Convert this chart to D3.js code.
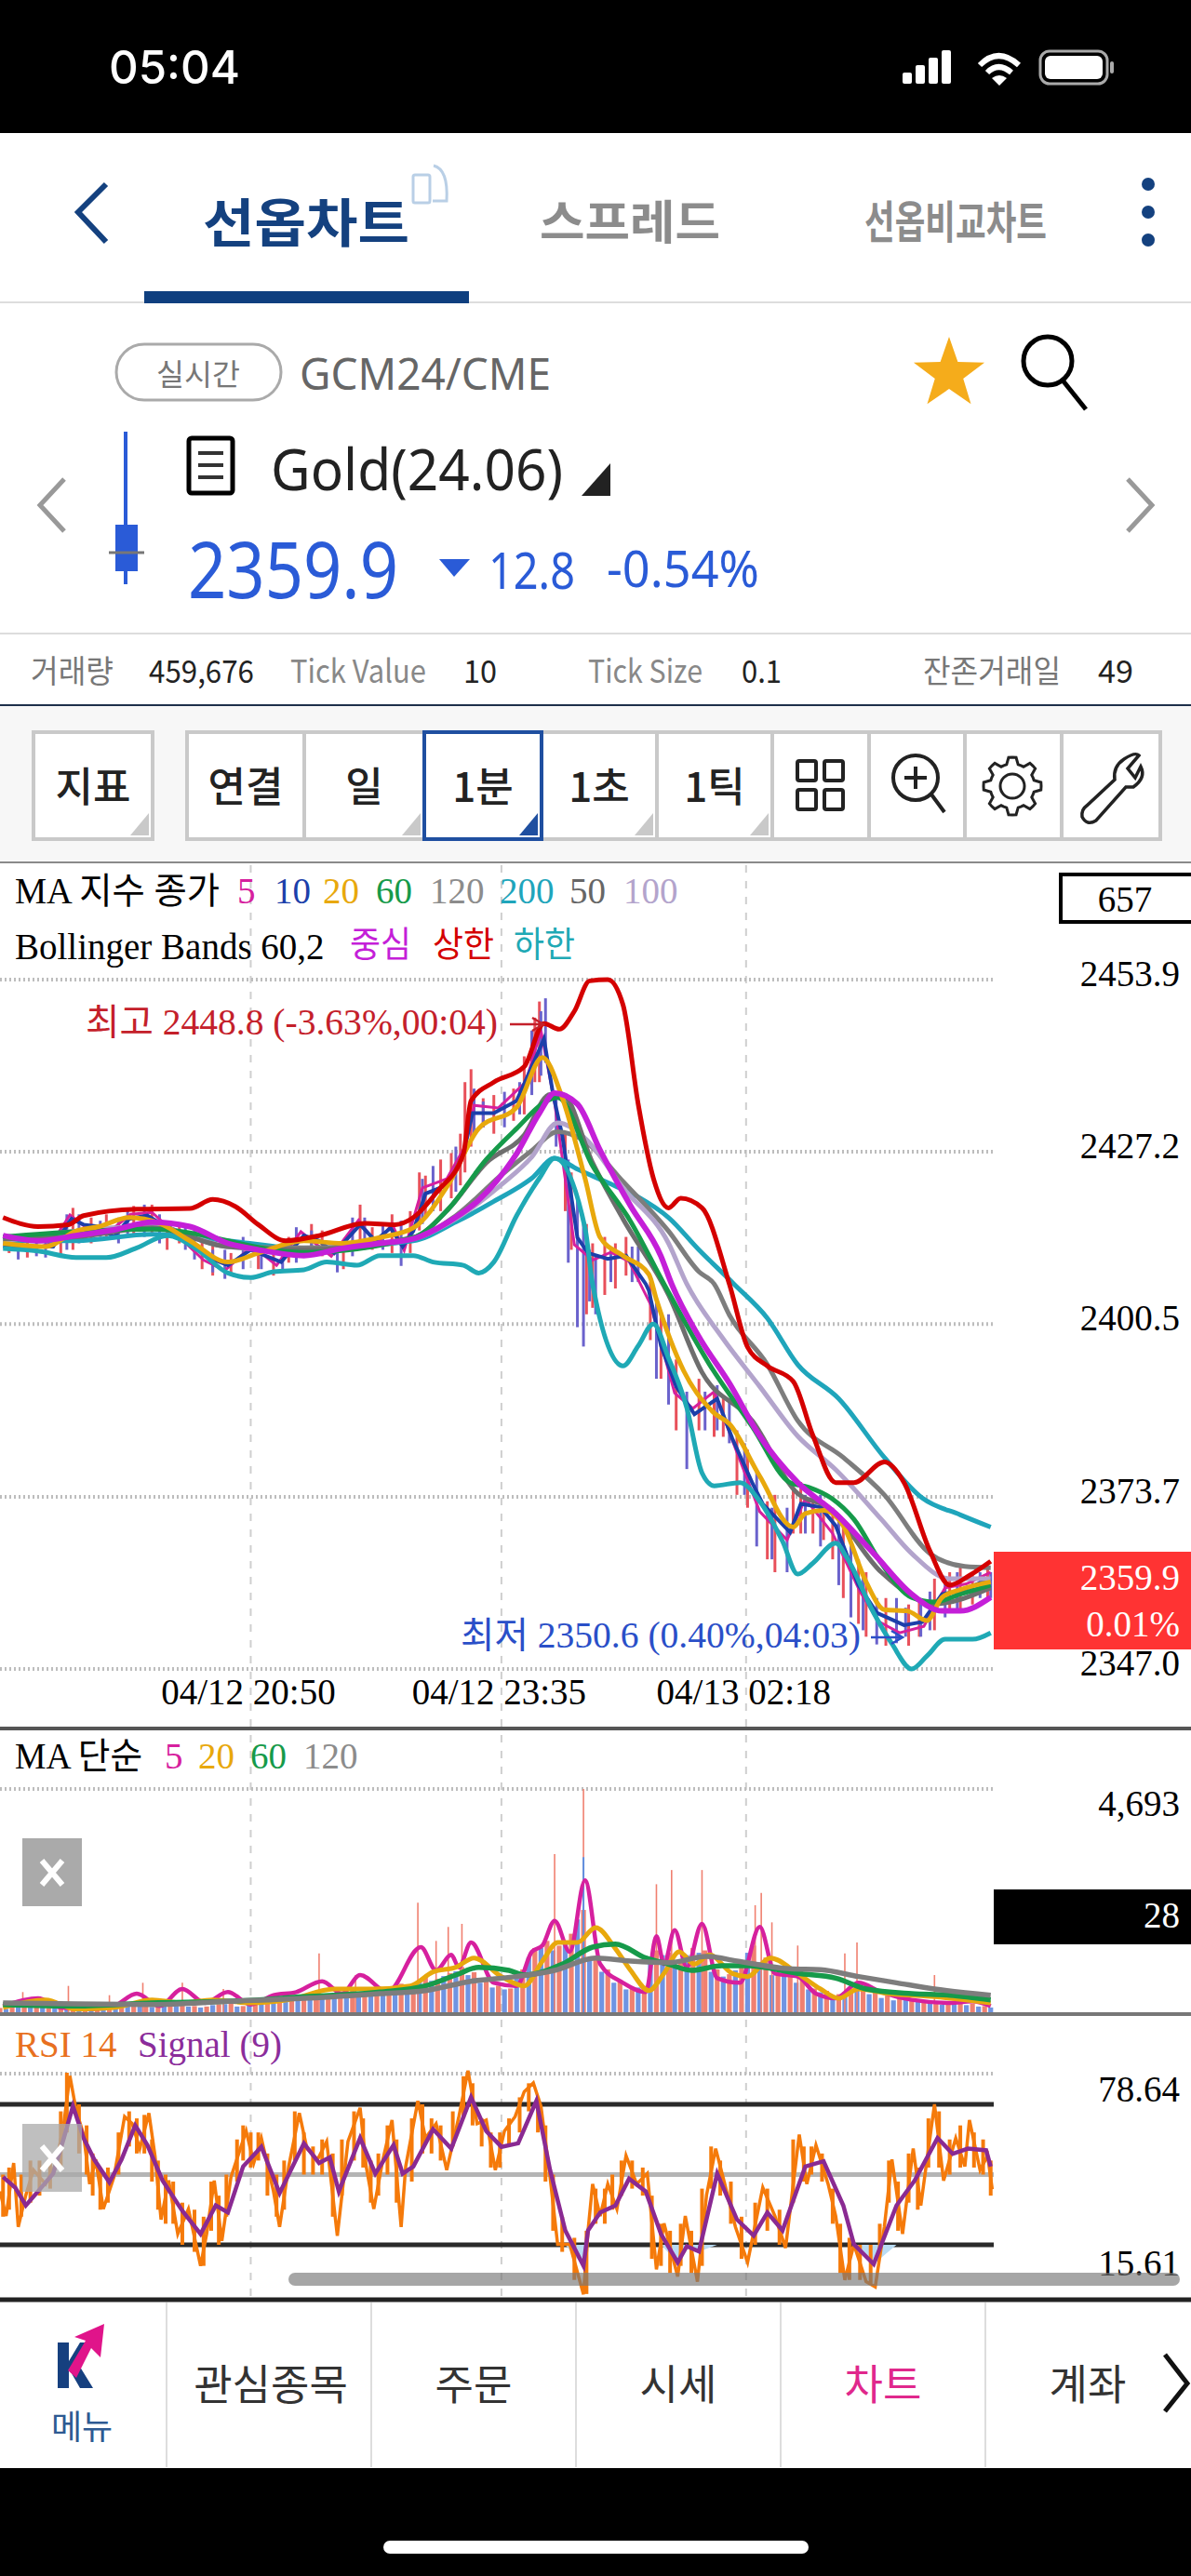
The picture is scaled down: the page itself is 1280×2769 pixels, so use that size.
<!DOCTYPE html>
<html>
<head>
<meta charset="utf-8">
<script src="https://cdn.jsdelivr.net/npm/d3@7"></script>
<style>
  html, body { margin: 0; padding: 0; background: #fff; }
  svg { display: block; }
</style>
</head>
<body>
<div id="chart"></div>
<script>
// [bar index, price]
const bbUpper = [[2,2417],[25,2415.6],[45,2415.9],[55,2417.3],[90,2418.3],[125,2418.4],[140,2419.8],[155,2418.7],[170,2415.9],[188,2413.4],[210,2414.2],[240,2416.1],[260,2415.9],[272,2417],[288,2421.1],[305,2426.9],[310,2435.1],[325,2438],[345,2440.4],[358,2447.1],[368,2446.2],[378,2449],[388,2453.7],[400,2453.9],[410,2450],[420,2434.6],[430,2423.1],[440,2418.5],[448,2420],[462,2418.5],[480,2406.7],[492,2396.9],[505,2394],[522,2391.6],[535,2383.2],[550,2375.9],[562,2375.9],[582,2379.1],[595,2375.9],[612,2365.3],[625,2360],[638,2361.5],[652,2363.7]];
const bbMiddle = [[2,2414.2],[25,2413.4],[50,2414.2],[75,2415.1],[100,2416.3],[125,2415.6],[150,2413],[170,2412],[200,2411.1],[225,2412.2],[250,2413],[272,2413.7],[295,2416.3],[315,2419.7],[340,2426.9],[355,2433.2],[365,2436.3],[380,2434.6],[395,2427.4],[415,2418.8],[435,2411],[442,2406.7],[460,2398.5],[480,2391.3],[500,2383.1],[525,2375.9],[550,2371.1],[575,2364.9],[600,2358.6],[620,2356],[632,2356],[652,2358.1]];
const bbLower = [[2,2412.2],[25,2411.8],[50,2410.8],[70,2410.8],[90,2412.3],[110,2414.2],[130,2412],[150,2408.4],[165,2407.7],[180,2408.6],[200,2408.9],[215,2410.1],[235,2409.6],[250,2411.1],[272,2411.1],[285,2410.1],[305,2409.6],[315,2408.4],[325,2410.1],[340,2417.3],[355,2423.1],[365,2426.2],[385,2415.4],[390,2406.7],[410,2394],[420,2397.1],[430,2400.5],[440,2395.2],[452,2387.5],[462,2377.4],[470,2375.4],[487,2375.9],[500,2373],[515,2366.8],[525,2361.7],[535,2363.4],[550,2366.5],[557,2364.4],[575,2355.7],[587,2350.9],[600,2347],[610,2349],[622,2351.6],[640,2351.6],[652,2352.6]];
const ma200 = [[2,2413.4],[50,2413.4],[100,2414.4],[150,2413.4],[200,2412.2],[272,2413.4],[300,2416.3],[325,2419.5],[350,2423.1],[365,2426.2],[380,2424.5],[400,2422.4],[420,2420.2],[440,2417],[460,2412],[483,2406.7],[505,2401.4],[525,2394.2],[552,2388.9],[582,2379.8],[607,2373.5],[632,2370.9],[652,2369]];
const ma120 = [[2,2413.4],[100,2415.6],[150,2412.5],[200,2412.3],[272,2413.7],[300,2417.3],[330,2423.6],[350,2427.4],[367,2430.3],[385,2428.8],[410,2422.6],[440,2414.9],[460,2408.6],[470,2406.7],[480,2401.9],[505,2394.2],[525,2385.5],[555,2379.8],[582,2374],[612,2364.9],[635,2362.9],[652,2362.7]];
const ma100 = [[2,2413.4],[100,2415.6],[150,2412.5],[200,2411.8],[272,2413.7],[300,2416.8],[330,2422.1],[350,2426.4],[367,2431.7],[385,2429.3],[410,2421.6],[440,2413],[452,2406.7],[475,2398.5],[500,2390.8],[525,2383.1],[550,2377.9],[580,2370.2],[600,2364.9],[625,2361],[652,2361]];
const ma60 = [[2,2414],[100,2415.2],[200,2411.6],[272,2413.9],[295,2418.3],[320,2426],[340,2430.8],[360,2435.1],[367,2435.6],[390,2425],[415,2416.4],[437,2406.7],[467,2394.2],[495,2384.6],[520,2375.9],[532,2375.2],[547,2373.5],[562,2370.2],[580,2363.4],[600,2358.1],[615,2357.4],[632,2358.6],[652,2360]];
const ma50 = [[2,2413.7],[50,2414],[100,2415.4],[150,2412.5],[200,2412],[272,2413.9],[295,2418.3],[320,2425.5],[345,2429.8],[362,2436.1],[370,2436.1],[390,2425.5],[410,2416.8],[440,2405],[462,2393],[495,2385.5],[525,2374.2],[545,2372.1],[580,2362],[615,2357.1],[652,2359.6]];
const ma20 = [[2,2413],[30,2412.5],[50,2414.9],[65,2415.6],[85,2417],[105,2416.1],[125,2413.4],[150,2410.1],[170,2411.5],[200,2413.4],[225,2413],[250,2413.9],[272,2415.4],[295,2422.1],[315,2430.8],[340,2434.1],[357,2441.8],[370,2435.6],[385,2423.1],[395,2413.9],[410,2411.1],[427,2408.2],[432,2404.3],[450,2393.2],[470,2386.7],[480,2385],[500,2376.9],[522,2369],[530,2371.1],[542,2371.6],[555,2369.2],[570,2360.5],[582,2356.2],[597,2356],[610,2354.5],[620,2358.1],[632,2359.3],[652,2360.5]];
const ma10 = [[2,2412.5],[20,2412.5],[35,2412.5],[47,2416.8],[55,2415.9],[65,2415.6],[75,2414],[85,2416.8],[97,2417.3],[107,2415.9],[122,2414.4],[135,2411],[150,2409.6],[165,2412],[185,2410.1],[200,2414.2],[210,2413.4],[220,2411.5],[237,2415.9],[247,2413.4],[257,2415.4],[265,2412.5],[272,2414.9],[280,2420.7],[295,2422.1],[305,2426.9],[311,2433.2],[325,2433.2],[340,2435.1],[350,2440.4],[358,2444.7],[364,2436.1],[370,2429.8],[380,2413.9],[387,2411.5],[400,2410.6],[412,2411.1],[425,2406.7],[427,2405.7],[435,2397.1],[445,2390.8],[457,2386.5],[472,2388.9],[482,2382.7],[495,2375.9],[502,2372.6],[520,2368.2],[527,2372.6],[540,2372.1],[550,2369.2],[565,2360],[577,2355.7],[595,2353.8],[607,2354.3],[620,2358.6],[632,2359.1],[652,2361]];
const ma5 = [[2,2412.9],[18,2411.9],[34,2413],[46,2417.4],[58,2415.2],[72,2414.8],[86,2417.5],[100,2417.8],[118,2414],[134,2410.4],[148,2408.8],[166,2412.6],[182,2409.6],[198,2414.8],[218,2411],[236,2416.6],[248,2412.8],[258,2416],[266,2411.9],[278,2421.6],[294,2423],[306,2428],[312,2434.4],[328,2434],[346,2438],[356,2446],[365,2434.8],[378,2412.8],[390,2410.4],[402,2411.6],[414,2410.2],[428,2403.6],[444,2389.8],[456,2387.4],[470,2390],[484,2381.2],[500,2371.4],[518,2367],[530,2373.4],[548,2368],[566,2359],[578,2354.4],[592,2352.6],[608,2353.6],[622,2359.6],[636,2360.2],[652,2362]];
// [bar index, low, high]
const upSticks = [[6,2411.5,2413.5],[18,2410.8,2413.5],[40,2411,2416],[48,2412,2418.5],[60,2413,2417],[70,2414,2417.5],[88,2414,2418.8],[100,2414.5,2419],[110,2412,2416.5],[118,2413,2416],[133,2409,2413.5],[140,2408,2413],[152,2408,2411.5],[170,2409,2413],[180,2408,2412.5],[190,2410,2414],[205,2412,2416],[212,2411,2415],[226,2409,2413],[237,2412,2419],[245,2412,2415.5],[258,2411.5,2417.5],[270,2411.5,2418],[276,2415,2424],[280,2417,2423.5],[290,2418,2426],[297,2420,2427],[303,2422,2430],[306,2424,2438],[310,2428,2440],[318,2431,2435.5],[325,2430,2436],[338,2432,2437],[345,2433,2442],[352,2438,2448],[355,2438,2450.5],[372,2418,2430],[376,2412,2424],[386,2402,2416],[390,2403,2413],[398,2405,2414],[405,2406,2413],[412,2408,2414],[428,2398,2407],[435,2392,2402],[445,2384,2395],[460,2384,2392],[470,2383,2390],[476,2383,2389],[485,2374,2384],[492,2372,2381],[505,2364,2373],[510,2362,2374],[522,2368,2375],[527,2368,2376],[535,2368,2374],[542,2367,2373],[548,2364,2372],[555,2358,2369],[565,2354,2364],[570,2352,2362],[583,2350.6,2358],[590,2352,2357],[598,2350.6,2357],[605,2352,2358],[615,2353,2361],[625,2356,2362],[632,2356,2363],[640,2357,2362],[650,2358,2363]];
const downSticks = [[12,2410.5,2413.5],[24,2411,2413.5],[30,2410.8,2414],[44,2412,2417.5],[52,2413,2417.5],[66,2414,2416.5],[78,2413,2417],[84,2414.5,2418.5],[95,2414,2419],[105,2413,2417.5],[122,2412,2416],[128,2410.5,2415],[140,2408.5,2412],[148,2407.5,2412],[160,2409,2414],[172,2409,2412.5],[186,2409,2413],[195,2410,2415.5],[205,2411,2415],[222,2408.5,2413],[232,2411,2417],[240,2412,2417],[252,2412,2416],[264,2409.5,2416.5],[278,2416,2423],[285,2418,2425],[300,2421,2428],[312,2430,2437],[318,2431,2435],[332,2431,2436.5],[342,2433,2438],[350,2436,2446],[356,2439,2449],[359,2441,2451],[366,2428,2436],[374,2410,2426],[380,2400,2420],[384,2397,2416],[388,2404,2412],[392,2402,2411],[402,2407,2412],[416,2407,2412.5],[420,2407,2412.5],[432,2392,2404],[440,2388,2402],[452,2378,2390],[464,2384,2390],[472,2384,2391],[480,2382,2389],[490,2374,2382],[498,2366,2378],[508,2364,2372],[518,2362,2372],[530,2368,2374],[540,2366,2374],[552,2360,2370],[560,2355,2368],[568,2353,2362],[577,2350.8,2358],[590,2351,2358],[596,2352,2356.5],[606,2352,2357],[612,2353,2359],[622,2355,2361],[630,2356,2362],[645,2358,2362],[652,2358,2362]];

// volume, one value every 8 bars (up from bar 0, down from bar 4)
const volUp = [90,140,180,120,90,70,110,90,130,110,160,130,180,120,210,150,130,120,170,230,130,200,310,280,360,300,420,350,380,500,420,480,520,600,530,760,700,820,950,840,700,560,500,900,1350,1500,1400,1650,2150,1150,900,650,500,550,1300,1250,1050,1350,1300,900,800,950,1400,1150,800,800,700,500,450,380,480,520,420,350,280,290,250,230,180,210,180,130];
const volDown = [70,110,150,100,80,100,80,110,90,140,120,150,110,160,130,120,100,150,170,120,160,260,240,310,280,360,320,350,430,400,450,490,540,560,680,660,760,860,780,620,520,480,800,1150,1350,1300,1500,1950,1100,850,620,480,520,1100,1200,980,1200,1250,850,750,880,1250,1050,780,760,620,480,420,350,430,450,380,300,250,260,220,210,160,190,150,120,100];
const volSpikes = [[15,424],[45,554],[72,359],[94,619],[120,619],[147,489],[210,1239],[234,782],[275,2304],[287,1499],[295,1793],[304,1858],[365,3326],[384,4693],[432,2691],[442,2989],[462,2989],[497,2250],[501,2510],[508,1890],[525,1402],[556,1239],[564,1467],[615,782]];
const volDownSpikes = [[384,3260]];
const volMa5 = [[2,130],[25,293],[40,98],[60,65],[75,130],[90,391],[105,130],[120,489],[135,196],[150,424],[165,163],[180,359],[195,424],[212,652],[225,391],[237,782],[255,424],[277,1369],[287,880],[297,1206],[302,945],[310,1467],[325,619],[340,554],[350,1271],[357,1402],[365,1923],[375,1271],[385,2771],[395,1011],[410,619],[425,424],[432,1597],[437,1011],[444,1728],[452,945],[462,1858],[472,717],[487,619],[500,1793],[510,815],[525,750],[537,391],[550,293],[565,619],[580,424],[600,261],[625,196],[640,228],[652,130]];
const volMa20 = [[2,98],[30,261],[50,65],[75,98],[100,261],[120,196],[140,261],[165,196],[190,261],[220,489],[245,489],[270,554],[285,848],[300,945],[312,1141],[330,750],[345,554],[357,1076],[367,1467],[380,1467],[392,1780],[405,1337],[415,880],[427,456],[437,815],[447,1271],[457,1011],[467,1206],[482,815],[492,750],[507,1141],[525,815],[540,489],[552,293],[565,489],[585,391],[615,326],[652,196]];
const volMa60 = [[2,163],[50,130],[100,196],[150,228],[200,326],[250,424],[280,554],[300,782],[315,945],[335,880],[345,782],[370,1011],[390,1369],[405,1434],[425,1141],[440,1011],[455,880],[475,978],[492,978],[525,815],[550,717],[570,489],[600,391],[625,359],[652,261]];
const volMa120 = [[2,196],[50,176],[100,163],[150,228],[200,293],[250,391],[280,456],[310,652],[340,750],[365,880],[392,1141],[415,1076],[440,1043],[465,1174],[485,1076],[520,913],[540,893],[565,750],[590,619],[615,489],[652,359]];

const rsiValues = [[0,45.2],[4,38.2],[9,53.3],[12,35.1],[17,44.2],[22,51.3],[30,47.3],[37,53.3],[42,64.5],[46,78.1],[50,68.5],[55,61.4],[59,47.3],[63,54.3],[68,40.2],[75,49.3],[82,66.5],[87,64.5],[92,57.4],[98,67.5],[102,55.4],[106,37.2],[111,48.3],[117,33.1],[124,40.2],[132,24],[136,33.1],[141,48.3],[146,31.1],[152,49.3],[162,62.4],[167,53.3],[172,60.4],[180,45.2],[184,35.1],[190,52.3],[197,67.5],[202,57.4],[209,54.3],[215,59.4],[222,32.6],[229,59.4],[237,69],[241,52.3],[246,40.2],[252,54.3],[258,65.5],[264,35.1],[267,52.3],[275,71],[280,60.4],[287,64.5],[294,51.3],[302,66.5],[308,79.6],[314,64.5],[320,65.5],[326,51.3],[332,62.4],[339,66.5],[345,73.6],[351,76.1],[356,69.5],[362,49.3],[367,30.1],[375,30.1],[384,15.9],[387,34.1],[390,47.3],[395,38.2],[400,47.3],[406,40.2],[412,55.4],[419,47.3],[426,50.3],[432,23],[437,36.1],[446,21],[451,38.2],[459,19.5],[465,44.2],[471,57.4],[477,47.3],[484,35.1],[492,25],[502,46.3],[510,38.2],[517,29.1],[526,61.4],[531,47.3],[537,58.4],[545,47.3],[550,38.2],[556,20],[562,30.1],[570,19.5],[576,18],[582,35.1],[587,54.3],[594,33.1],[601,57.4],[606,41.2],[615,70],[621,48.3],[629,60.4],[635,52.3],[638,65.5],[645,51.3],[650,55.4],[653,45.8]];
// [bar index, low, high]
const rsiRanges = [[2,38,50],[6,40,52],[14,38,50],[20,42,54],[26,44,54],[33,46,56],[40,52,68],[44,62,79],[52,56,70],[57,50,64],[61,44,56],[66,40,52],[71,42,52],[78,50,62],[85,58,68],[90,56,66],[95,56,67],[100,48,60],[104,40,54],[109,36,50],[114,36,48],[120,30,42],[128,28,40],[134,24,38],[139,34,48],[144,30,44],[149,38,50],[156,48,60],[160,54,64],[165,52,62],[170,54,62],[176,44,56],[182,38,50],[187,40,54],[194,54,68],[200,50,62],[206,50,58],[212,50,60],[219,38,56],[225,44,60],[233,54,68],[239,52,66],[244,42,54],[249,44,56],[255,50,64],[261,42,60],[271,48,66],[278,56,70],[284,56,66],[290,54,64],[298,58,68],[305,66,78],[311,64,76],[317,58,66],[323,52,62],[329,52,62],[335,58,66],[342,62,72],[348,68,76],[354,62,72],[359,48,64],[364,34,50],[370,28,38],[378,20,32],[386,16,34],[392,36,46],[398,36,46],[403,40,50],[409,44,54],[416,46,54],[423,44,52],[429,26,44],[435,24,36],[441,22,34],[448,24,36],[455,22,34],[462,24,46],[468,46,58],[474,44,54],[481,36,48],[488,26,38],[497,30,42],[505,34,46],[513,30,40],[522,42,60],[529,48,58],[534,50,58],[541,48,56],[548,36,46],[553,22,36],[559,20,32],[566,20,30],[573,19,30],[579,28,36],[585,42,54],[591,34,48],[598,42,56],[604,40,52],[611,52,66],[618,52,68],[625,50,60],[632,52,64],[641,52,62],[647,50,60],[652,44,54]];
const rsiSignal = [[2,49.3],[10,46.3],[17,41.2],[25,45.2],[35,50.3],[42,60.4],[48,69.5],[55,60.4],[62,54.3],[72,47.8],[80,54.3],[89,64],[97,58.4],[107,48.3],[120,39.7],[132,33.1],[142,41.2],[150,39.2],[160,52.3],[172,57.9],[184,44.7],[200,58.9],[210,53.3],[217,54.9],[223,45.2],[237,60.4],[247,50.3],[259,58.4],[265,50.3],[272,52.3],[285,62.9],[297,57.4],[310,72],[320,62.4],[330,57.9],[341,58.9],[353,71],[362,51.3],[372,34.1],[384,24],[387,34.1],[395,39.2],[405,41.2],[414,48.8],[425,45.2],[435,33.1],[446,25],[452,29.6],[460,28.1],[472,50.3],[485,37.2],[496,32.6],[505,39.2],[515,34.1],[530,52.3],[542,53.8],[555,41.2],[562,30.1],[575,24.5],[590,41.2],[602,48.3],[617,60.4],[627,55.9],[637,57.4],[649,56.9],[652,52.3]];

const priceTicks = [2453.9, 2427.2, 2400.5, 2373.7, 2347.0];
const timeTickBars = [165, 330, 491];
const timeTickLabels = ["04/12 20:50", "04/12 23:35", "04/13 02:18"];
const rsiLevels = [70, 50, 30];

const infoRow = [["거래량",33,89,"#777"],["459,676",160,113,"#222"],["Tick Value",312,146,"#888"],["10",498,36,"#222"],["Tick Size",632,123,"#888"],["0.1",797,43,"#222"],["잔존거래일",992,148,"#777"],["49",1180,38,"#222"]];
const toolButtons = [["지표",36,128],["연결",201,126],["일",327,129],["1분",456,126],["1초",582,124],["1틱",706,124]];
const navItems = [["관심종목",291,"#333"],["주문",509,"#333"],["시세",729,"#333"],["차트",949,"#e0288c"],["계좌",1169,"#333"]];

const serif = "'Liberation Serif','Noto Sans CJK KR',serif";
const sans = "'Noto Sans CJK KR','Noto Sans',sans-serif";

const svg = d3.select("#chart").append("svg").attr("width", 1280).attr("height", 2769);
svg.append("rect").attr("width", 1280).attr("height", 2769).attr("fill", "#fff");

const x = d3.scaleLinear().domain([0, 654]).range([0, 1068]);
const yPrice = d3.scaleLinear().domain([2347.0, 2453.9]).range([1794, 1053]);
const yVol = d3.scaleLinear().domain([0, 4693]).range([2163, 1923]);
const yRsi = d3.scaleLinear().domain([30, 70]).range([2413, 2262]);

function label(g, px, py, s, o = {}) {
  const t = g.append("text")
    .attr("x", px).attr("y", py)
    .attr("dominant-baseline", "central")
    .attr("text-anchor", o.anchor || "start")
    .attr("font-family", o.font || serif)
    .attr("font-size", o.size || 39)
    .attr("font-weight", o.weight || 400)
    .attr("fill", o.fill || "#000")
    .text(s);
  if (o.len) t.attr("textLength", o.len).attr("lengthAdjust", "spacingAndGlyphs");
  return t;
}

// ---- status bar and header
const head = svg.append("g");
head.append("rect").attr("width", 1280).attr("height", 143).attr("fill", "#000");
label(head, 117, 72, "05:04", { font: "Inter,Roboto,sans-serif", size: 50, weight: 500, fill: "#fff", len: 141 });
[[970,78,12],[984,70,20],[998,62,28],[1012,54,36]].forEach(b => head.append("rect").attr("x", b[0]).attr("y", b[1]).attr("width", 10).attr("height", b[2]).attr("rx", 2).attr("fill", "#fff"));
head.append("path").attr("d", "M1053 70 Q1073 50 1095 70").attr("fill", "none").attr("stroke", "#fff").attr("stroke-width", 6);
head.append("path").attr("d", "M1061 78 Q1073 66 1087 78").attr("fill", "none").attr("stroke", "#fff").attr("stroke-width", 6);
head.append("path").attr("d", "M1066 84 L1074 92 L1082 84 Q1074 78 1066 84Z").attr("fill", "#fff");
head.append("rect").attr("x", 1118).attr("y", 55).attr("width", 72).attr("height", 35).attr("rx", 10).attr("fill", "none").attr("stroke", "#aaa").attr("stroke-width", 3);
head.append("rect").attr("x", 1123).attr("y", 60).attr("width", 62).attr("height", 25).attr("rx", 6).attr("fill", "#fff");
head.append("rect").attr("x", 1193).attr("y", 66).attr("width", 4).attr("height", 13).attr("rx", 2).attr("fill", "#aaa");

const navy = "#14417f", blue = "#2a5bd7";
head.append("path").attr("d", "M114 198 L84 228 L114 260").attr("fill", "none").attr("stroke", navy).attr("stroke-width", 6);
label(head, 218, 235, "선옵차트", { font: sans, size: 56, weight: 700, fill: navy, len: 222 });
head.append("rect").attr("x", 444).attr("y", 188).attr("width", 18).attr("height", 30).attr("rx", 2).attr("fill", "none").attr("stroke", "#b9cfe6").attr("stroke-width", 3);
head.append("path").attr("d", "M466 178 Q482 182 480 216 L465 216").attr("fill", "none").attr("stroke", "#b9cfe6").attr("stroke-width", 3);
label(head, 580, 235, "스프레드", { font: sans, size: 50, weight: 700, fill: "#8c8c8c", len: 194 });
label(head, 929, 235, "선옵비교차트", { font: sans, size: 48, weight: 700, fill: "#8c8c8c", len: 196 });
[198, 228, 258].forEach(cy => head.append("circle").attr("cx", 1234).attr("cy", cy).attr("r", 7).attr("fill", navy));
head.append("rect").attr("x", 0).attr("y", 324).attr("width", 1280).attr("height", 2).attr("fill", "#ddd");
head.append("rect").attr("x", 155).attr("y", 313).attr("width", 349).attr("height", 13).attr("fill", "#0f3f7f");

head.append("rect").attr("x", 125).attr("y", 370).attr("width", 177).attr("height", 60).attr("rx", 30).attr("fill", "#fff").attr("stroke", "#aaa").attr("stroke-width", 3);
label(head, 213, 400, "실시간", { font: sans, size: 32, fill: "#777", anchor: "middle", len: 90 });
label(head, 322, 400, "GCM24/CME", { font: "'Noto Sans',sans-serif", size: 48, fill: "#666", len: 270 });
const starPts = d3.range(10).map(i => {
  const r = i % 2 ? 16 : 40, a = i * Math.PI / 5 - Math.PI / 2;
  return [1020 + r * Math.cos(a), 402 + r * Math.sin(a)];
});
head.append("path").attr("d", d3.line()(starPts) + "Z").attr("fill", "#f5ac1b");
head.append("circle").attr("cx", 1126).attr("cy", 388).attr("r", 26).attr("fill", "none").attr("stroke", "#000").attr("stroke-width", 5);
head.append("line").attr("x1", 1143).attr("y1", 410).attr("x2", 1167).attr("y2", 440).attr("stroke", "#000").attr("stroke-width", 5);

head.append("line").attr("x1", 135).attr("y1", 464).attr("x2", 135).attr("y2", 628).attr("stroke", blue).attr("stroke-width", 4);
head.append("rect").attr("x", 124).attr("y", 564).attr("width", 24).attr("height", 50).attr("fill", blue);
head.append("line").attr("x1", 117).attr("y1", 594).attr("x2", 155).attr("y2", 594).attr("stroke", "#777").attr("stroke-width", 3);
head.append("rect").attr("x", 203).attr("y", 471).attr("width", 47).attr("height", 59).attr("rx", 3).attr("fill", "none").attr("stroke", "#000").attr("stroke-width", 5);
[487, 500, 513].forEach(ly => head.append("line").attr("x1", 213).attr("y1", ly).attr("x2", 240).attr("y2", ly).attr("stroke", "#333").attr("stroke-width", 4));
label(head, 291, 503, "Gold(24.06)", { font: "'Noto Sans',sans-serif", size: 62, fill: "#222", len: 314 });
head.append("path").attr("d", "M625 533 L656 533 L656 498Z").attr("fill", "#222");
head.append("path").attr("d", "M69 515 L43 543 L69 571").attr("fill", "none").attr("stroke", "#999").attr("stroke-width", 5);
head.append("path").attr("d", "M1212 515 L1238 543 L1212 571").attr("fill", "none").attr("stroke", "#999").attr("stroke-width", 5);
label(head, 202, 610, "2359.9", { font: "'Noto Sans',sans-serif", size: 84, fill: blue, len: 226 });
head.append("path").attr("d", "M472 601 L505 601 L488 620Z").attr("fill", blue);
label(head, 525, 612, "12.8", { font: "'Noto Sans',sans-serif", size: 54, fill: blue, len: 93 });
label(head, 652, 610, "-0.54%", { font: "'Noto Sans',sans-serif", size: 54, fill: blue, len: 164 });

head.append("rect").attr("y", 680).attr("width", 1280).attr("height", 2).attr("fill", "#ddd");
infoRow.forEach(d => label(head, d[1], 719, d[0], { font: sans, size: 34, fill: d[3], len: d[2] }));
head.append("rect").attr("y", 757).attr("width", 1280).attr("height", 2).attr("fill", "#1d2f4a");
head.append("rect").attr("y", 759).attr("width", 1280).attr("height", 168).attr("fill", "#f7f7f7");

// ---- toolbar
const tools = svg.append("g");
function toolBox(bx, w, stroke) {
  tools.append("rect").attr("x", bx).attr("y", 787).attr("width", w).attr("height", 115)
    .attr("fill", "#fff").attr("stroke", stroke || "#c9c9c9").attr("stroke-width", 4);
}
[[830,104],[934,103],[1037,104],[1141,106]].forEach(b => toolBox(b[0], b[1]));
toolButtons.filter(d => d[0] !== "1분").forEach(d => toolBox(d[1], d[2]));
toolBox(456, 126, "#1f4fa0");
toolButtons.forEach(d => {
  label(tools, d[1] + d[2] / 2, 843, d[0], { font: sans, size: 44, weight: 500, fill: "#222", anchor: "middle" });
  if (d[0] !== "연결") {
    const c = d[0] === "1분" ? "#1f4fa0" : "#c9c9c9", rx = d[1] + d[2] - 4, by = 898;
    tools.append("path").attr("d", `M${rx} ${by} L${rx - 20} ${by} L${rx} ${by - 24}Z`).attr("fill", c);
  }
});
[[857,818],[886,818],[857,849],[886,849]].forEach(r => tools.append("rect").attr("x", r[0]).attr("y", r[1]).attr("width", 20).attr("height", 21).attr("rx", 2).attr("fill", "none").attr("stroke", "#222").attr("stroke-width", 4));
tools.append("circle").attr("cx", 984).attr("cy", 836).attr("r", 24).attr("fill", "none").attr("stroke", "#222").attr("stroke-width", 4);
tools.append("path").attr("d", "M972 836 H996 M984 824 V848 M1001 854 L1015 873").attr("stroke", "#222").attr("stroke-width", 4);
tools.append("circle").attr("cx", 1088).attr("cy", 845).attr("r", 13).attr("fill", "none").attr("stroke", "#222").attr("stroke-width", 3);
const gearPts = d3.range(48).map(i => {
  const k = i % 6, r = k < 3 ? 31 : 24, a = (i - 1) * Math.PI / 24;
  return [1088 + r * Math.cos(a), 845 + r * Math.sin(a)];
});
tools.append("path").attr("d", d3.line()(gearPts) + "Z").attr("fill", "none").attr("stroke", "#222").attr("stroke-width", 3);
tools.append("path").attr("d", "M1208 816 Q1220 808 1224 812 L1212 826 L1220 836 L1226 824 Q1232 836 1218 846 L1210 846 L1178 882 Q1168 888 1163 878 Q1162 870 1168 866 L1198 838 Q1196 824 1208 816Z").attr("fill", "none").attr("stroke", "#222").attr("stroke-width", 3.5);

// ---- grid
const grid = svg.append("g");
const hDots = (v, scale) => grid.append("line").attr("x1", 0).attr("x2", 1068).attr("y1", scale(v)).attr("y2", scale(v))
  .attr("stroke", "#bdbdbd").attr("stroke-width", 4).attr("stroke-dasharray", "2,3");
grid.selectAll(".vgrid").data(timeTickBars).join("line").attr("class", "vgrid")
  .attr("x1", d => x(d)).attr("x2", d => x(d)).attr("y1", 930).attr("y2", 2470)
  .attr("stroke", "#cfcfcf").attr("stroke-width", 2).attr("stroke-dasharray", "8,9");
priceTicks.forEach(t => hDots(t, yPrice));
hDots(4693, yVol);
grid.append("line").attr("x1", 0).attr("x2", 1068).attr("y1", 2229).attr("y2", 2229).attr("stroke", "#bdbdbd").attr("stroke-width", 4).attr("stroke-dasharray", "2,3");

// ---- price pane
const lineGen = (xs, ys) => d3.line().x(d => xs(d[0])).y(d => ys(d[1])).curve(d3.curveMonotoneX);
const priceLine = lineGen(x, yPrice);
const pane = svg.append("g");
const sticks = (data, color) => pane.append("g").selectAll("line").data(data).join("line")
  .attr("x1", d => x(d[0])).attr("x2", d => x(d[0])).attr("y1", d => yPrice(d[1])).attr("y2", d => yPrice(d[2]))
  .attr("stroke", color).attr("stroke-width", 3);
sticks(upSticks, "#e8505a");
sticks(downSticks, "#6a62cc");
const sharp = d3.line().x(d => x(d[0])).y(d => yPrice(d[1]));
pane.append("path").attr("d", sharp(ma5)).attr("fill", "none").attr("stroke", "#d6209e").attr("stroke-width", 3);
pane.append("path").attr("d", sharp(ma10)).attr("fill", "none").attr("stroke", "#1c3faa").attr("stroke-width", 4);
[[ma200,"#1fa5bb",5],[bbLower,"#1fa9b5",5],[ma120,"#7d7d7d",5],[ma100,"#b3a4cc",5],[ma50,"#6e6e6e",5],[ma60,"#169a4a",5],[ma20,"#e8a80c",5],[bbMiddle,"#c41fd8",6],[bbUpper,"#d40000",5]]
  .forEach(s => pane.append("path").attr("d", priceLine(s[0])).attr("fill", "none").attr("stroke", s[1]).attr("stroke-width", s[2]));

// ---- volume pane
const vol = svg.append("g");
const volBars = (data, offset, color) => vol.append("g").selectAll("rect").data(data).join("rect")
  .attr("x", (d, i) => x(i * 8 + offset) - 2.6).attr("width", 5.2)
  .attr("y", d => yVol(d)).attr("height", d => yVol(0) - yVol(d)).attr("fill", color);
volBars(volUp, 0, "#f08070");
volBars(volDown, 4, "#6f94e2");
vol.append("g").selectAll("line").data(volSpikes).join("line")
  .attr("x1", d => x(d[0])).attr("x2", d => x(d[0])).attr("y1", d => yVol(d[1])).attr("y2", yVol(0))
  .attr("stroke", "#f08070").attr("stroke-width", 1.6);
vol.append("g").selectAll("line").data(volDownSpikes).join("line")
  .attr("x1", d => x(d[0])).attr("x2", d => x(d[0])).attr("y1", d => yVol(d[1])).attr("y2", yVol(0))
  .attr("stroke", "#5f8fe0").attr("stroke-width", 2);
const volLine = lineGen(x, yVol);
[[volMa5,"#d6209e",4.5],[volMa20,"#e8a80c",5],[volMa60,"#169a4a",5.5],[volMa120,"#7d7d7d",5.5]]
  .forEach(s => vol.append("path").attr("d", volLine(s[0])).attr("fill", "none").attr("stroke", s[1]).attr("stroke-width", s[2]));

// ---- rsi pane
const rsi = svg.append("g");
rsiLevels.forEach(v => rsi.append("line").attr("x1", 0).attr("x2", 1068).attr("y1", yRsi(v)).attr("y2", yRsi(v))
  .attr("stroke", v === 50 ? "#b5b5b5" : "#2a2a2a").attr("stroke-width", 5));
rsi.append("path").datum(rsiSignal)
  .attr("d", d3.area().x(d => x(d[0])).y0(yRsi(30)).y1(d => yRsi(Math.min(d[1], 30))))
  .attr("fill", "#b9dcf4");
rsi.append("g").selectAll("line").data(rsiRanges).join("line")
  .attr("x1", d => x(d[0])).attr("x2", d => x(d[0])).attr("y1", d => yRsi(d[1])).attr("y2", d => yRsi(d[2]))
  .attr("stroke", "#f57a0a").attr("stroke-width", 4);
rsi.append("path").attr("d", d3.line().x(d => x(d[0])).y(d => yRsi(d[1]))(rsiValues)).attr("fill", "none").attr("stroke", "#f57a0a").attr("stroke-width", 3.5);
rsi.append("path").attr("d", d3.line().x(d => x(d[0])).y(d => yRsi(d[1]))(rsiSignal)).attr("fill", "none").attr("stroke", "#8a2a92").attr("stroke-width", 4.5);

// ---- axes
function rightAxis(scale, ticks, fmt, dy) {
  const g = svg.append("g").attr("transform", "translate(1268,0)")
    .call(d3.axisRight(scale).tickValues(ticks).tickFormat(fmt).tickSize(0));
  g.select(".domain").remove();
  g.selectAll("text").attr("x", 0).attr("dy", 0).attr("y", dy)
    .attr("text-anchor", "end").attr("dominant-baseline", "central")
    .attr("font-family", serif).attr("font-size", 39).attr("fill", "#000");
  return g;
}
rightAxis(yPrice, priceTicks, d3.format(".1f"), -7);
rightAxis(yVol, [4693], d3.format(","), 15);
label(svg, 1268, 2245, "78.64", { anchor: "end" });
label(svg, 1268, 2432, "15.61", { anchor: "end" });

const xAxis = svg.append("g").attr("transform", "translate(-3,1818)")
  .call(d3.axisBottom(x).tickValues(timeTickBars).tickFormat((d, i) => timeTickLabels[i]).tickSize(0));
xAxis.select(".domain").remove();
xAxis.selectAll("text").attr("y", 0).attr("dy", 0).attr("dominant-baseline", "central")
  .attr("font-family", serif).attr("font-size", 39).attr("fill", "#000");

// ---- separators and boxes
const sep = (sy, c, w) => svg.append("rect").attr("y", sy - w / 2).attr("width", 1280).attr("height", w).attr("fill", c);
sep(927, "#8a8a8a", 2);
sep(1858, "#555", 4);
sep(2165, "#777", 4);
sep(2472, "#222", 5);
svg.append("rect").attr("x", 1140).attr("y", 940).attr("width", 145).attr("height", 51).attr("fill", "#fff").attr("stroke", "#000").attr("stroke-width", 4);
label(svg, 1209, 966, "657", { anchor: "middle" });
svg.append("rect").attr("x", 1068).attr("y", 1668).attr("width", 212).attr("height", 105).attr("fill", "#ff3333");
label(svg, 1268, 1695, "2359.9", { anchor: "end", fill: "#fff" });
label(svg, 1268, 1745, "0.01%", { anchor: "end", fill: "#fff" });
svg.append("rect").attr("x", 1068).attr("y", 2031).attr("width", 212).attr("height", 59).attr("fill", "#000");
label(svg, 1268, 2058, "28", { anchor: "end", fill: "#fff" });

// ---- legends
const legend = svg.append("g");
label(legend, 16, 957, "MA 지수 종가", { len: 220 });
[["5",255,"#d6209e"],["10",295,"#1c3faa"],["20",347,"#e8a80c"],["60",404,"#169a4a"],["120",462,"#8c8c8c"],["200",537,"#1fa5bb"],["50",612,"#666"],["100",670,"#b3a4cc"]]
  .forEach(d => label(legend, d[1], 957, d[0], { fill: d[2] }));
label(legend, 16, 1017, "Bollinger Bands 60,2");
[["중심",376,"#c41fd8"],["상한",465,"#d40000"],["하한",552,"#1fa9b5"]].forEach(d => label(legend, d[1], 1015, d[0], { fill: d[2], len: 66, size: 38 }));
label(legend, 16, 1887, "MA 단순", { len: 137 });
[["5",177,"#d6209e"],["20",213,"#e8a80c"],["60",269,"#169a4a"],["120",326,"#8c8c8c"]].forEach(d => label(legend, d[1], 1887, d[0], { fill: d[2] }));
label(legend, 16, 2197, "RSI 14", { fill: "#e87020" });
label(legend, 148, 2197, "Signal (9)", { fill: "#8b2d9b" });

// ---- hi/lo notes
const notes = svg.append("g");
label(notes, 92, 1098, "최고 2448.8 (-3.63%,00:04)", { fill: "#c4202a", len: 443 });
notes.append("path").attr("d", "M548 1101 H584 M572 1094 L584 1101 L572 1108").attr("fill", "none").attr("stroke", "#c4202a").attr("stroke-width", 2.5);
label(notes, 495, 1757, "최저 2350.6 (0.40%,04:03)", { fill: "#2a4fc8", len: 430 });
notes.append("path").attr("d", "M936 1760 H970 M958 1753 L970 1760 L958 1767").attr("fill", "none").attr("stroke", "#2a4fc8").attr("stroke-width", 2.5);

// ---- close buttons, scrollbar
[[24,1976,73,1],[24,2283,73,0.75]].forEach(b => {
  svg.append("rect").attr("x", b[0]).attr("y", b[1]).attr("width", 64).attr("height", b[2]).attr("fill", "#aaa").attr("opacity", b[3]);
  svg.append("path").attr("d", `M${b[0] + 21} ${b[1] + 24} L${b[0] + 43} ${b[1] + 50} M${b[0] + 43} ${b[1] + 24} L${b[0] + 21} ${b[1] + 50}`)
    .attr("stroke", "#fff").attr("stroke-width", 6);
});
svg.append("rect").attr("x", 310).attr("y", 2443).attr("width", 958).attr("height", 14).attr("rx", 7).attr("fill", "#777").attr("opacity", 0.65);

// ---- bottom nav
const nav = svg.append("g");
[179, 399, 619, 839, 1059].forEach(nx => nav.append("line").attr("x1", nx).attr("x2", nx).attr("y1", 2475).attr("y2", 2652).attr("stroke", "#ddd").attr("stroke-width", 2));
navItems.forEach(d => label(nav, d[1], 2560, d[0], { font: sans, size: 45, fill: d[2], anchor: "middle" }));
nav.append("path").attr("d", "M1252 2531 L1276 2562 L1252 2592").attr("fill", "none").attr("stroke", "#111").attr("stroke-width", 5);
nav.append("path").attr("d", "M62 2518 H74 V2538 L86 2518 H99 L84 2541 L100 2567 H86 L74 2546 V2567 H62Z").attr("fill", "#16407f");
nav.append("path").attr("d", "M73 2548 L92 2516 L80 2512 L112 2498 L108 2534 L98 2524 L82 2556Z").attr("fill", "#e0148a");
label(nav, 88, 2606, "메뉴", { font: sans, size: 36, fill: "#2e5a92", anchor: "middle" });
svg.append("rect").attr("y", 2653).attr("width", 1280).attr("height", 116).attr("fill", "#000");
svg.append("rect").attr("x", 412).attr("y", 2731).attr("width", 457).attr("height", 14).attr("rx", 7).attr("fill", "#fff");
</script>
</body>
</html>
